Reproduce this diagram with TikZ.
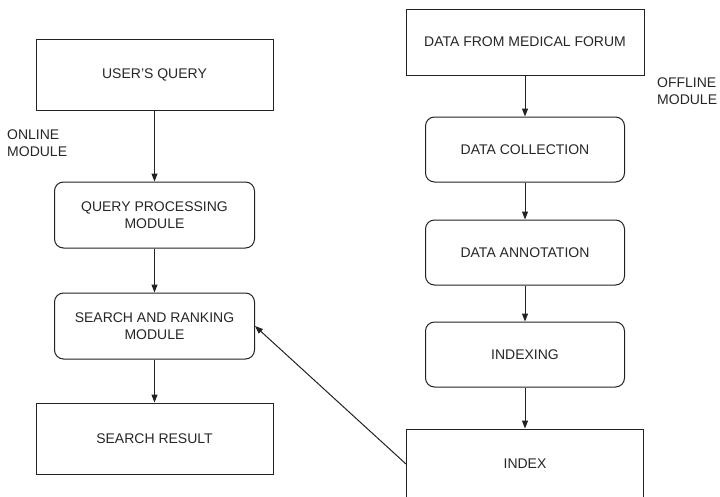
\documentclass[tikz,border=0pt]{standalone}
\usepackage{fontspec}
\setmainfont{Liberation Sans}
\usepackage{tikz}
\usetikzlibrary{arrows.meta,positioning}
\definecolor{lineink}{HTML}{222222}
\definecolor{textink}{HTML}{262626}
\tikzset{
  plainbox/.style={draw=lineink,line width=1pt,text=textink,align=center,font=\fontsize{14}{17}\selectfont,minimum width=237pt,minimum height=71pt,inner sep=2pt},
  roundbox/.style={plainbox,rounded corners=9pt,minimum width=200pt,minimum height=66pt},
  flow/.style={-{Triangle[length=8pt,width=6pt]},line width=1pt,color=lineink},
  tag/.style={align=left,font=\fontsize{14}{17}\selectfont,text=textink,inner sep=0pt,anchor=north west},
}
\begin{document}
\begin{tikzpicture}[x=1pt,y=1pt]
  \useasboundingbox (0,0) rectangle (720,-496);
  % online side
  \node[plainbox] (uq) at (154.5,-74.5) {USER'S QUERY};
  \node[roundbox,below=71pt of uq] (qpm) {QUERY PROCESSING\\MODULE};
  \node[roundbox,below=44pt of qpm] (srm) {SEARCH AND RANKING\\MODULE};
  \node[plainbox,below=43pt of srm] (sr) {SEARCH RESULT};
  \node[tag] (online) at (7,-130) {ONLINE\\MODULE};
  % offline side
  \node[plainbox,minimum width=238pt,minimum height=66pt] (dmf) at (525,-42) {DATA FROM MEDICAL FORUM};
  \node[roundbox,minimum width=199pt,minimum height=65pt,below=41pt of dmf] (dc) {DATA COLLECTION};
  \node[roundbox,minimum width=199pt,minimum height=65pt,below=37pt of dc] (da) {DATA ANNOTATION};
  \node[roundbox,minimum width=199pt,minimum height=65pt,below=36pt of da] (idx) {INDEXING};
  \node[plainbox,minimum height=70pt,below=41pt of idx] (index) {INDEX};
  \node[tag] (offline) at (657,-78) {OFFLINE\\MODULE};
  \foreach \a/\b in {uq/qpm,qpm/srm,srm/sr,dmf/dc,dc/da,da/idx,idx/index} \draw[flow] (\a) -- (\b);
  \draw[flow] (index.west) -- (srm.east);
\end{tikzpicture}
\end{document}
